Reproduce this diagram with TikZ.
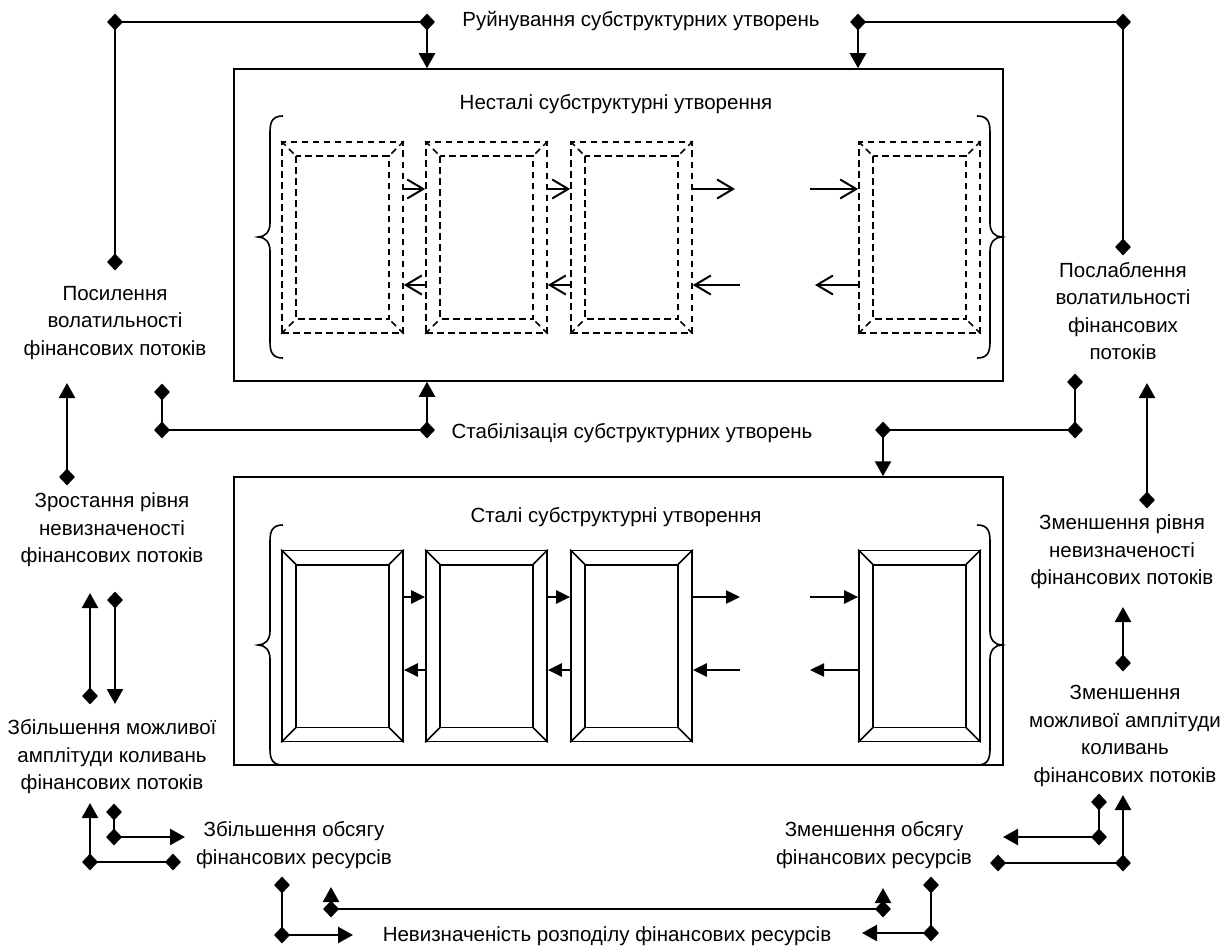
\documentclass[tikz,border=0pt]{standalone}
\usepackage{fontspec}
\setmainfont{Liberation Sans}
\usetikzlibrary{arrows.meta,shapes.geometric}
\newcommand\bevbox[4]{%
  \node[#4, minimum width=121pt, minimum height=191pt, inner sep=0pt] (#1) at (#2,#3) {};
  \draw[#4] ([shift={(15pt,-15pt)}]#1.north west) rectangle ([shift={(-15pt,15pt)}]#1.south east);
  \draw[#4] (#1.north west) -- ++(15pt,-15pt) (#1.north east) -- ++(-15pt,-15pt)
            (#1.south west) -- ++(15pt,15pt) (#1.south east) -- ++(-15pt,15pt);
}
\begin{document}
\begin{tikzpicture}[x=1pt,y=-1pt,
  lbl/.style={font=\fontsize{20.5}{27.5}\selectfont, align=center, inner sep=0pt},
  dia/.style={shape=diamond, fill=black, draw=none, minimum width=16pt, minimum height=17pt, inner sep=0pt},
  conn/.style={line width=2.4pt},
  tri/.style={conn, -{Triangle[length=15pt,width=16pt]}},
  stri/.style={conn, -{Triangle[length=14pt,width=13pt]}},
  barb/.style={line width=2pt, -{Straight Barb[length=16pt,width=19pt]}},
  bigbox/.style={draw, line width=1.5pt},
  sbev/.style={draw, line width=1.7pt},
  dbev/.style={draw, line width=1.7pt, dash pattern=on 6.5pt off 4.5pt},
  bracestyle/.style={line width=1.6pt}]
\useasboundingbox (0,0) rectangle (1231,947);

% main frames
\node[bigbox, minimum width=769pt, minimum height=312pt, inner sep=0pt] (U) at (618.5,225) {};
\node[bigbox, minimum width=769pt, minimum height=288pt, inner sep=0pt] (L) at (618.5,621) {};

% bevel boxes
\bevbox{u1}{342.5}{237.5}{dbev}
\bevbox{u2}{486.5}{237.5}{dbev}
\bevbox{u3}{631.5}{237.5}{dbev}
\bevbox{u4}{919.5}{237.5}{dbev}
\bevbox{l1}{342.5}{646}{sbev}
\bevbox{l2}{486.5}{646}{sbev}
\bevbox{l3}{631.5}{646}{sbev}
\bevbox{l4}{919.5}{646}{sbev}

% braces
\draw[bracestyle] (283,116) .. controls (273,116) and (270,121) .. (270,132) -- (270,223) .. controls (270,232) and (265,237) .. (258,237) .. controls (265,237) and (270,242) .. (270,251) -- (270,342) .. controls (270,353) and (273,358) .. (283,358);
\draw[bracestyle] (977,116) .. controls (987,116) and (990,121) .. (990,132) -- (990,223) .. controls (990,232) and (995,237) .. (1002,237) .. controls (995,237) and (990,242) .. (990,251) -- (990,342) .. controls (990,353) and (987,358) .. (977,358);
\draw[bracestyle] (283,525) .. controls (273,525) and (270,530) .. (270,541) -- (270,631) .. controls (270,640) and (265,645) .. (258,645) .. controls (265,645) and (270,650) .. (270,659) -- (270,749) .. controls (270,760) and (273,765) .. (283,765);
\draw[bracestyle] (977,525) .. controls (987,525) and (990,530) .. (990,541) -- (990,631) .. controls (990,640) and (995,645) .. (1002,645) .. controls (995,645) and (990,650) .. (990,659) -- (990,749) .. controls (990,760) and (987,765) .. (977,765);

% inner arrows (upper, open heads)
\coordinate (ur1) at (735,189);
\coordinate (ur2) at (810,189);
\coordinate (ul1) at (740,285);
\coordinate (ul2) at (815,285);
\draw[barb] ([yshift=48.5pt]u1.east) -- ([yshift=48.5pt]u2.west);
\draw[barb] ([yshift=48.5pt]u2.east) -- ([yshift=48.5pt]u3.west);
\draw[barb] ([yshift=48.5pt]u3.east) -- (ur1);
\draw[barb] (ur2) -- ([yshift=48.5pt]u4.west);
\draw[barb] ([yshift=-47.5pt]u2.west) -- ([yshift=-47.5pt]u1.east);
\draw[barb] ([yshift=-47.5pt]u3.west) -- ([yshift=-47.5pt]u2.east);
\draw[barb] (ul1) -- ([yshift=-47.5pt]u3.east);
\draw[barb] ([yshift=-47.5pt]u4.west) -- (ul2);

% inner arrows (lower, filled heads)
\coordinate (lr1) at (740,597);
\coordinate (lr2) at (810,597);
\coordinate (ll1) at (740,670);
\coordinate (ll2) at (810,670);
\draw[stri] ([yshift=49pt]l1.east) -- ([yshift=49pt]l2.west);
\draw[stri] ([yshift=49pt]l2.east) -- ([yshift=49pt]l3.west);
\draw[stri] ([yshift=49pt]l3.east) -- (lr1);
\draw[stri] (lr2) -- ([yshift=49pt]l4.west);
\draw[stri] ([yshift=-24pt]l2.west) -- ([yshift=-24pt]l1.east);
\draw[stri] ([yshift=-24pt]l3.west) -- ([yshift=-24pt]l2.east);
\draw[stri] (ll1) -- ([yshift=-24pt]l3.east);
\draw[stri] ([yshift=-24pt]l4.west) -- (ll2);

% labels
\node[lbl] (t1) at (641,21) {Руйнування субструктурних утворень};
\node[lbl] (t2) at (616,104) {Несталі субструктурні утворення};
\node[lbl] (t3) at (632,433) {Стабілізація субструктурних утворень};
\node[lbl] (t4) at (616,517) {Сталі субструктурні утворення};
\node[lbl] (t5) at (115,323) {Посилення\\волатильності\\фінансових потоків};
\node[lbl] (t6) at (1123,311) {Послаблення\\волатильності\\фінансових\\потоків};
\node[lbl] (t7) at (112,530) {Зростання рівня\\невизначеності\\фінансових потоків};
\node[lbl] (t8) at (1122,552) {Зменшення рівня\\невизначеності\\фінансових потоків};
\node[lbl] (t9) at (112,757) {Збільшення можливої\\амплітуди коливань\\фінансових потоків};
\node[lbl] (t10) at (1125,736) {Зменшення\\можливої амплітуди\\коливань\\фінансових потоків};
\node[lbl] (t11) at (294,845) {Збільшення обсягу\\фінансових ресурсів};
\node[lbl] (t12) at (874,845) {Зменшення обсягу\\фінансових ресурсів};
\node[lbl] (t13) at (607,936) {Невизначеність розподілу фінансових ресурсів};

% diamonds
\node[dia] (a1) at (115,22) {};
\node[dia] (a2) at (427,22) {};
\node[dia] (a3) at (115,262) {};
\node[dia] (b1) at (858,22) {};
\node[dia] (b2) at (1123,22) {};
\node[dia] (b3) at (1123,247) {};
\node[dia] (c1) at (162,392) {};
\node[dia] (c2) at (162,430) {};
\node[dia] (c3) at (427,430) {};
\node[dia] (e1) at (1075,382) {};
\node[dia] (e2) at (1075,430) {};
\node[dia] (e3) at (883,430) {};
\node[dia] (f1) at (67,477) {};
\node[dia] (f2) at (90,696) {};
\node[dia] (f3) at (115,600) {};
\node[dia] (g1) at (1147,500) {};
\node[dia] (g2) at (1123,663) {};
\node[dia] (h1) at (90,862) {};
\node[dia] (h2) at (173,862) {};
\node[dia] (h3) at (114,812) {};
\node[dia] (h4) at (114,837) {};
\node[dia] (k1) at (1099,802) {};
\node[dia] (k2) at (1099,837) {};
\node[dia] (k3) at (1123,863) {};
\node[dia] (k4) at (998,863) {};
\node[dia] (m1) at (282,885) {};
\node[dia] (m2) at (282,935) {};
\node[dia] (m3) at (331,909) {};
\node[dia] (m4) at (883,909) {};
\node[dia] (m5) at (931,885) {};
\node[dia] (m6) at (931,933) {};

% free arrow ends
\coordinate (f1t) at (67,383);
\coordinate (f2t) at (90,593);
\coordinate (f3t) at (115,704);
\coordinate (g1t) at (1147,383);
\coordinate (g2t) at (1123,607);
\coordinate (h1t) at (90,803);
\coordinate (h4t) at (185,837);
\coordinate (k2t) at (1003,837);
\coordinate (k3t) at (1123,795);
\coordinate (m2t) at (353,935);
\coordinate (m3t) at (331,887);
\coordinate (m4t) at (883,888);
\coordinate (m6t) at (862,933);

% connectors
\draw[conn] (a1.center) -- (a2.center);
\draw[conn] (a1.center) -- (a3.center);
\draw[tri] (a2.center) -- (a2.center |- U.north);
\draw[conn] (b1.center) -- (b2.center);
\draw[conn] (b2.center) -- (b3.center);
\draw[tri] (b1.center) -- (b1.center |- U.north);
\draw[conn] (c1.center) -- (c2.center);
\draw[conn] (c2.center) -- (c3.center);
\draw[tri] (c3.center) -- (c3.center |- U.south);
\draw[conn] (e1.center) -- (e2.center);
\draw[conn] (e2.center) -- (e3.center);
\draw[tri] (e3.center) -- (e3.center |- L.north);
\draw[tri] (f1.center) -- (f1t);
\draw[tri] (f2.center) -- (f2t);
\draw[tri] (f3.center) -- (f3t);
\draw[tri] (g1.center) -- (g1t);
\draw[tri] (g2.center) -- (g2t);
\draw[tri] (h1.center) -- (h1t);
\draw[conn] (h1.center) -- (h2.center);
\draw[conn] (h3.center) -- (h4.center);
\draw[tri] (h4.center) -- (h4t);
\draw[conn] (k1.center) -- (k2.center);
\draw[tri] (k2.center) -- (k2t);
\draw[tri] (k3.center) -- (k3t);
\draw[conn] (k3.center) -- (k4.center);
\draw[conn] (m1.center) -- (m2.center);
\draw[tri] (m2.center) -- (m2t);
\draw[tri] (m3.center) -- (m3t);
\draw[conn] (m3.center) -- (m4.center);
\draw[tri] (m4.center) -- (m4t);
\draw[conn] (m5.center) -- (m6.center);
\draw[tri] (m6.center) -- (m6t);
\end{tikzpicture}
\end{document}
